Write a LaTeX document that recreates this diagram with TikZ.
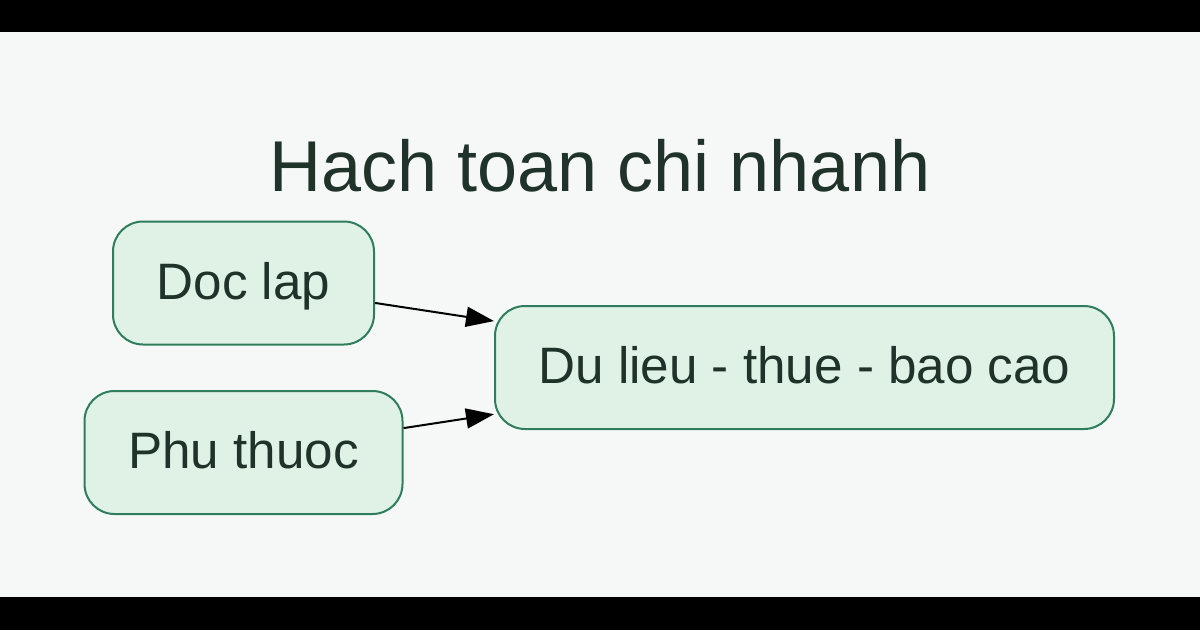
\documentclass[tikz,border=0pt]{standalone}
\usepackage{fontspec}
\setmainfont{Liberation Sans}
\usetikzlibrary{arrows.meta}
\definecolor{boxfill}{HTML}{E0F1E6}
\definecolor{boxline}{HTML}{2E7D5C}
\definecolor{textcol}{HTML}{1F332A}
\definecolor{bgcol}{HTML}{F6F8F7}
\tikzset{
  branch/.style={draw=boxline,fill=boxfill,line width=2pt,rounded corners=30pt,
    inner sep=0pt,text=textcol,font=\fontsize{51.2}{61}\selectfont,
    text height=32pt,text depth=0pt},
  link/.style={line width=2pt,-{Triangle[length=28pt,width=20pt]}}
}
\begin{document}
\begin{tikzpicture}[x=1pt,y=-1pt]
	    \fill[black](0,0) rectangle (1200,630);
	    \fill[bgcol](0,32) rectangle (1200,597);
	    \node[anchor=base,text=textcol,font=\fontsize{72}{86}\selectfont](title) at (600,191){Hach toan chi nhanh};
	    \node[branch,minimum width=261pt,minimum height=123pt](doc) at (243.5,283){Doc lap};
	    \node[branch,minimum width=318pt,minimum height=123pt](phu) at (243.5,452.5){Phu thuoc};
	    \node[branch,minimum width=619pt,minimum height=123pt](data) at (804.5,367.5){Du lieu - thue - bao cao};
	    \draw[link](doc)--(data);
	    \draw[link](phu)--(data);
	\end{tikzpicture}
\end{document}
